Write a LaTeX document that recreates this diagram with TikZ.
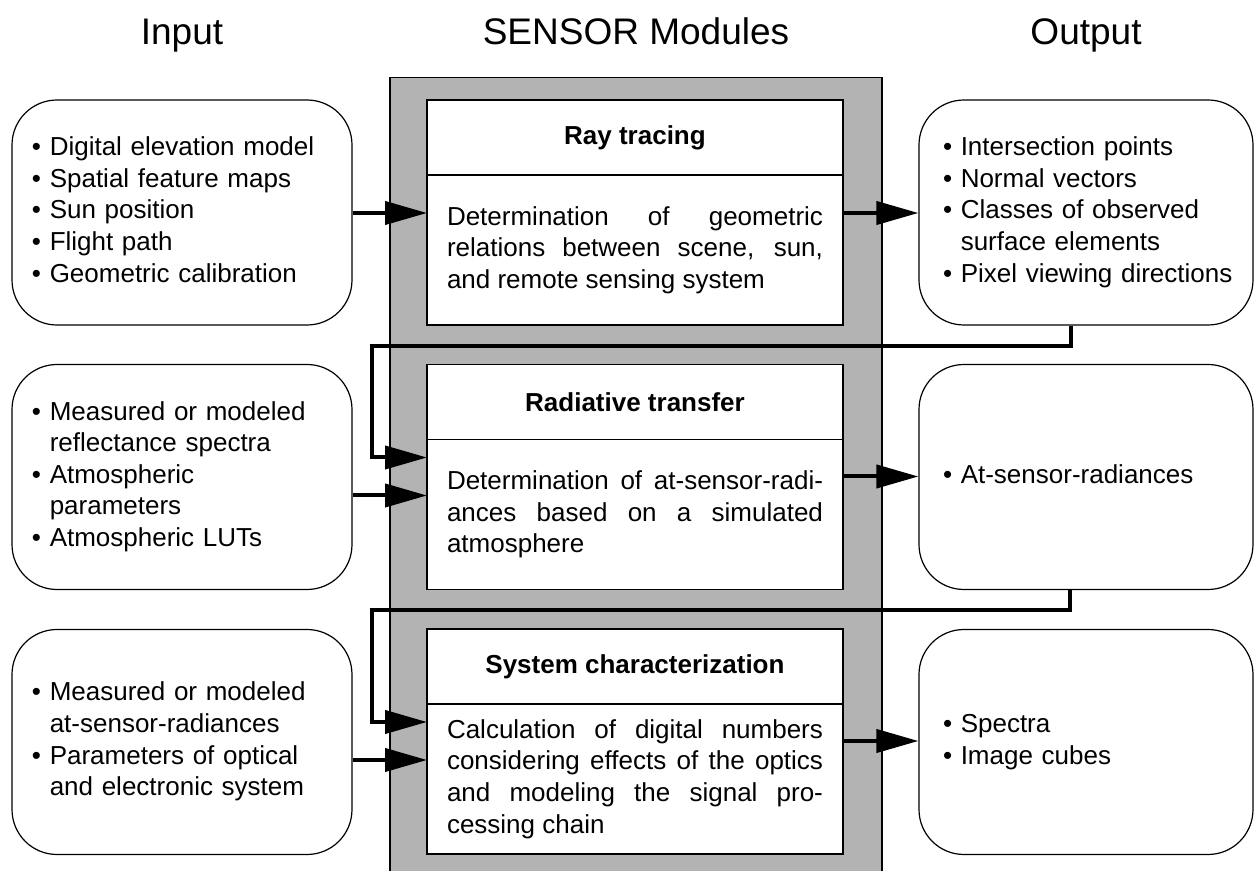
\documentclass[tikz,border=0pt]{standalone}
\usepackage{fontspec}
\setmainfont{Liberation Sans}
\usepackage{tikz}
\usetikzlibrary{arrows.meta,positioning}
\definecolor{modulegray}{RGB}{179,179,179}
\newcommand{\bitems}[1]{\begin{tabular}{@{}l@{\ }l@{}}#1\end{tabular}}
\newcommand{\bodyfont}{\tolerance=10000\relax\hyphenpenalty=10000\relax\exhyphenpenalty=10000\relax\fontsize{13pt}{15.8pt}\selectfont}

\begin{document}
\begin{tikzpicture}[x=0.5pt,y=-0.5pt,
    every node/.style={font=\fontsize{13pt}{15.8pt}\selectfont},
    title/.style={font=\fontsize{18.5pt}{22pt}\selectfont,anchor=base},
    side/.style={rectangle,draw,line width=0.6pt,rounded corners=22.5pt,minimum height=112.5pt,align=left},
    inbox/.style={side,minimum width=170pt,text width=150pt},
    outbox/.style={side,minimum width=167pt,text width=143pt},
    head/.style={rectangle,draw,fill=white,line width=0.6pt,outer sep=0pt,minimum width=208pt,minimum height=37.5pt,
        font=\fontsize{13pt}{15.8pt}\selectfont\bfseries},
    body/.style={rectangle,draw,fill=white,line width=0.6pt,outer sep=0pt,minimum width=208pt,minimum height=75pt,
        text width=188pt,align=justify,font=\bodyfont},
    flow/.style={line width=2pt,-{Triangle[length=21pt,width=11.5pt]}}]

    \useasboundingbox (0,0) rectangle (1255,871);

    \node[title] at (182,45) (intitle) {Input};
    \node[title] at (636,45) (modtitle) {SENSOR Modules};
    \node[title] at (1086,45) (outtitle) {Output};

    % module column
    \node[draw,fill=modulegray,line width=0.6pt,minimum width=246pt,minimum height=405pt,anchor=north] at (636,77) (column) {};

    \node[head] at (635,137.5) (rayhead) {Ray tracing};
    \node[body,below=0pt of rayhead] (raybody) {Determination of geometric\linebreak relations between scene, sun,\linebreak and remote sensing system};
    \node[head] at (635,402) (radhead) {Radiative transfer};
    \node[body,below=0pt of radhead] (radbody) {Determination of at-sensor-radi-\linebreak ances based on a simulated\linebreak atmosphere};
    \node[head] at (635,666.5) (syshead) {System characterization};
    \node[body,below=0pt of syshead] (sysbody) {Calculation of digital numbers\linebreak considering effects of the optics\linebreak and modeling the signal pro-\linebreak cessing chain};

    % inputs
    \node[inbox] at (182,212.5) (inray) {\bitems{\textbullet & Digital elevation model\\ \textbullet & Spatial feature maps\\ \textbullet & Sun position\\ \textbullet & Flight path\\ \textbullet & Geometric calibration}};
    \node[inbox] at (182,477) (inrad) {\bitems{\textbullet & Measured or modeled\\ & reflectance spectra\\ \textbullet & Atmospheric\\ & parameters\\ \textbullet & Atmospheric LUTs}};
    \node[inbox] at (182,742) (insys) {\bitems{\textbullet & Measured or modeled\\ & at-sensor-radiances\\ \textbullet & Parameters of optical\\ & and electronic system}};

    % outputs
    \node[outbox] at (1086,212.5) (outray) {\bitems{\textbullet & Intersection points\\ \textbullet & Normal vectors\\ \textbullet & Classes of observed\\ & surface elements\\ \textbullet & Pixel viewing directions}};
    \node[outbox] at (1086,477) (outrad) {\bitems{\textbullet & At-sensor-radiances}};
    \node[outbox] at (1086,742) (outsys) {\bitems{\textbullet & Spectra\\ \textbullet & Image cubes}};

    \coordinate (rayin) at ([yshift=-19pt]raybody.north west);
    \coordinate (rayout) at ([yshift=-19pt]raybody.north east);
    \coordinate (radfb) at ([yshift=-9pt]radbody.north west);
    \coordinate (radin) at ([yshift=-28pt]radbody.north west);
    \coordinate (radout) at ([yshift=-18.5pt]radbody.north east);
    \coordinate (sysfb) at ([yshift=-9pt]sysbody.north west);
    \coordinate (sysin) at ([yshift=-28pt]sysbody.north west);
    \coordinate (sysout) at ([yshift=-18.5pt]sysbody.north east);

    \draw[flow] (inray.east |- rayin) -- (rayin);
    \draw[flow] (rayout) -- (rayout -| outray.west);
    \draw[flow] ([xshift=-7.5pt]outray.south) -- ++(0,20) -| ([xshift=-27.5pt]radfb) -- (radfb);
    \draw[flow] (inrad.east |- radin) -- (radin);
    \draw[flow] (radout) -- (radout -| outrad.west);
    \draw[flow] ([xshift=-8pt]outrad.south) -- ++(0,20) -| ([xshift=-27.5pt]sysfb) -- (sysfb);
    \draw[flow] (insys.east |- sysin) -- (sysin);
    \draw[flow] (sysout) -- (sysout -| outsys.west);
\end{tikzpicture}
\end{document}
